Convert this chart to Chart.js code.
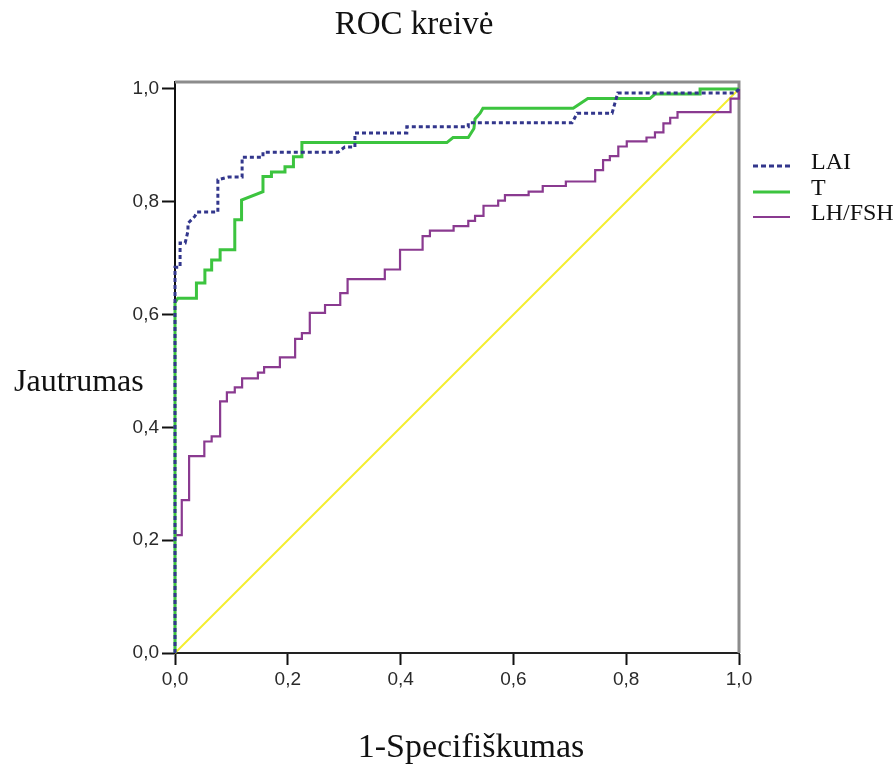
<!DOCTYPE html>
<html>
<head>
<meta charset="utf-8">
<script src="https://cdn.jsdelivr.net/npm/chart.js@4"></script>
<style>
  body { margin: 0; background: #fff; }
  canvas { display: block; }
</style>
</head>
<body>
<canvas id="rocChart" width="895" height="767"></canvas>
<script>
const tickValues = [0, 0.2, 0.4, 0.6, 0.8, 1.0];

const laiX = [0, 0, 0.009, 0.009, 0.018, 0.023, 0.023, 0.035, 0.039, 0.076, 0.076, 0.095, 0.119, 0.119, 0.156, 0.156, 0.289, 0.301, 0.319, 0.319, 0.411, 0.411, 0.52, 0.52, 0.704, 0.713, 0.775, 0.785, 0.993, 1];
const laiY = [0, 0.684, 0.684, 0.727, 0.727, 0.748, 0.762, 0.774, 0.782, 0.782, 0.839, 0.844, 0.844, 0.879, 0.879, 0.888, 0.888, 0.897, 0.897, 0.922, 0.922, 0.933, 0.933, 0.94, 0.94, 0.957, 0.957, 0.993, 0.993, 1];

const tX = [0, 0, 0.005, 0.038, 0.038, 0.053, 0.053, 0.065, 0.065, 0.08, 0.08, 0.106, 0.106, 0.118, 0.118, 0.156, 0.156, 0.171, 0.171, 0.195, 0.195, 0.21, 0.21, 0.225, 0.225, 0.482, 0.493, 0.52, 0.53, 0.532, 0.541, 0.546, 0.706, 0.732, 0.842, 0.851, 0.931, 0.931, 1];
const tY = [0, 0.621, 0.629, 0.629, 0.656, 0.656, 0.679, 0.679, 0.697, 0.697, 0.715, 0.715, 0.768, 0.768, 0.803, 0.818, 0.845, 0.845, 0.853, 0.853, 0.862, 0.862, 0.88, 0.88, 0.905, 0.905, 0.914, 0.914, 0.93, 0.947, 0.957, 0.966, 0.966, 0.983, 0.983, 0.991, 0.991, 1, 1];

const lhX = [0, 0, 0.012, 0.012, 0.025, 0.025, 0.052, 0.052, 0.065, 0.065, 0.08, 0.08, 0.092, 0.092, 0.106, 0.106, 0.119, 0.119, 0.147, 0.147, 0.158, 0.158, 0.186, 0.186, 0.213, 0.213, 0.225, 0.225, 0.239, 0.239, 0.266, 0.266, 0.293, 0.293, 0.306, 0.306, 0.372, 0.372, 0.399, 0.399, 0.439, 0.439, 0.452, 0.452, 0.494, 0.494, 0.52, 0.52, 0.532, 0.532, 0.547, 0.547, 0.573, 0.573, 0.585, 0.585, 0.627, 0.627, 0.652, 0.652, 0.693, 0.693, 0.745, 0.745, 0.759, 0.759, 0.771, 0.771, 0.786, 0.786, 0.801, 0.801, 0.836, 0.836, 0.851, 0.851, 0.866, 0.866, 0.878, 0.878, 0.891, 0.891, 0.985, 0.985, 1, 1];
const lhY = [0, 0.209, 0.209, 0.271, 0.271, 0.349, 0.349, 0.375, 0.375, 0.384, 0.384, 0.446, 0.446, 0.462, 0.462, 0.471, 0.471, 0.487, 0.487, 0.497, 0.497, 0.507, 0.507, 0.524, 0.524, 0.557, 0.557, 0.567, 0.567, 0.603, 0.603, 0.617, 0.617, 0.638, 0.638, 0.663, 0.663, 0.68, 0.68, 0.715, 0.715, 0.739, 0.739, 0.749, 0.749, 0.757, 0.757, 0.766, 0.766, 0.775, 0.775, 0.793, 0.793, 0.802, 0.802, 0.812, 0.812, 0.818, 0.818, 0.828, 0.828, 0.836, 0.836, 0.856, 0.856, 0.874, 0.874, 0.881, 0.881, 0.898, 0.898, 0.907, 0.907, 0.914, 0.914, 0.923, 0.923, 0.939, 0.939, 0.949, 0.949, 0.959, 0.959, 0.983, 0.983, 1];

const refX = [0, 1];
const refY = [0, 1];

const legendNames = ['LAI', 'T', 'LH/FSH'];

function toPoints(xs, ys) {
  return xs.map((x, i) => ({ x: x, y: ys[i] }));
}

const fmt = v => v.toFixed(1).replace('.', ',');

const rocText = {
  id: 'rocText',
  beforeDatasetsDraw(chart) {
    const ctx = chart.ctx;
    const a = chart.chartArea;
    ctx.save();
    ctx.strokeStyle = '#8c8c8c';
    ctx.lineWidth = 3;
    ctx.beginPath();
    ctx.moveTo(a.left, a.top);
    ctx.lineTo(a.right, a.top);
    ctx.lineTo(a.right, a.bottom);
    ctx.stroke();
    ctx.restore();
  },
  afterDraw(chart) {
    const ctx = chart.ctx;
    ctx.save();
    ctx.fillStyle = '#111';
    ctx.textBaseline = 'alphabetic';

    ctx.font = '33px "Liberation Serif"';
    ctx.textAlign = 'center';
    ctx.fillText('ROC kreivė', 414, 34);

    ctx.font = '34px "Liberation Serif"';
    ctx.fillText('1-Specifiškumas', 471, 757);

    ctx.font = '32px "Liberation Serif"';
    ctx.textAlign = 'left';
    ctx.fillText('Jautrumas', 14, 391);

    // legend
    const rows = [166, 192, 217];
    ctx.font = '24px "Liberation Serif"';
    legendNames.forEach((name, i) => {
      const ds = chart.data.datasets[i];
      ctx.strokeStyle = ds.borderColor;
      ctx.lineWidth = ds.borderWidth;
      ctx.setLineDash(ds.borderDash ? [5, 3] : []);
      ctx.beginPath();
      ctx.moveTo(753, rows[i]);
      ctx.lineTo(790, rows[i]);
      ctx.stroke();
      ctx.setLineDash([]);
      ctx.fillStyle = '#111';
      ctx.fillText(name, 811, rows[i] + 3);
    });
    ctx.restore();
  }
};

new Chart(document.getElementById('rocChart'), {
  type: 'scatter',
  data: {
    datasets: [{
      label: 'LAI',
      data: toPoints(laiX, laiY),
      borderColor: '#32368c',
      borderWidth: 3,
      borderDash: [4, 3]
    }, {
      label: 'T',
      data: toPoints(tX, tY),
      borderColor: '#3cc43f',
      borderWidth: 3
    }, {
      label: 'LH/FSH',
      data: toPoints(lhX, lhY),
      borderColor: '#8a3a90',
      borderWidth: 2.2
    }, {
      label: 'ref',
      data: toPoints(refX, refY),
      borderColor: '#f4ee2e',
      borderWidth: 2
    }]
  },
  options: {
    responsive: false,
    animation: false,
    showLine: true,
    clip: false,
    elements: {
      point: { radius: 0, hoverRadius: 0 },
      line: { tension: 0, borderCapStyle: 'butt' }
    },
    layout: { padding: { left: 115, right: 156, top: 82, bottom: 74 } },
    plugins: {
      legend: { display: false },
      title: { display: false },
      tooltip: { enabled: false }
    },
    scales: {
      x: {
        type: 'linear',
        min: 0,
        max: 1,
        afterFit: s => { s.height = 40; },
        afterBuildTicks: s => { s.ticks = tickValues.map(v => ({ value: v })); },
        grid: { drawOnChartArea: false, tickLength: 12, tickWidth: 2, tickColor: '#111' },
        border: { display: true, color: '#222', width: 2 },
        ticks: {
          padding: 3,
          color: '#2a2a2a',
          font: { family: '"Liberation Sans"', size: 19 },
          callback: v => fmt(v)
        }
      },
      y: {
        type: 'linear',
        min: 0,
        max: 1.0124,
        afterFit: s => { s.width = 60; },
        afterBuildTicks: s => { s.ticks = tickValues.map(v => ({ value: v })); },
        grid: { drawOnChartArea: false, tickLength: 13, tickWidth: 2, tickColor: '#111' },
        border: { display: true, color: '#111', width: 2 },
        ticks: {
          padding: 3,
          color: '#2a2a2a',
          font: { family: '"Liberation Sans"', size: 19 },
          callback: v => fmt(v)
        }
      }
    }
  },
  plugins: [rocText]
});
</script>
</body>
</html>
